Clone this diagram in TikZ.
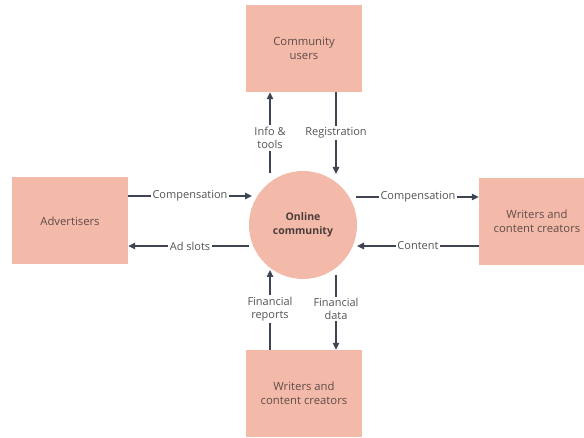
\documentclass[tikz,border=0pt]{standalone}
\usepackage{fontspec}
\setmainfont{Open Sans}
\usetikzlibrary{arrows.meta}
\definecolor{boxfill}{HTML}{F4BAA9}
\definecolor{linecol}{HTML}{3E4451}
\definecolor{boxtext}{HTML}{5E4B4B}
\definecolor{labeltext}{HTML}{545454}
\begin{document}
\begin{tikzpicture}[x=1pt,y=-1pt,
  entity/.style={fill=boxfill,draw=none,minimum width=116pt,minimum height=87pt,
    text=boxtext,align=center,font=\fontsize{11.3}{13.5}\selectfont},
  proc/.style={circle,fill=boxfill,draw=none,minimum size=108pt,
    text=boxtext!80!black,align=center,font=\bfseries\fontsize{10.5}{14}\selectfont},
  flow/.style={draw=linecol,line width=1.4pt,-{Triangle[length=7pt,width=6.5pt]}},
  flowlabel/.style={fill=white,inner sep=1.5pt,text=labeltext,align=center,
    font=\fontsize{11}{13.5}\selectfont}]
\useasboundingbox (0,0) rectangle (584,438);
\clip (0,0) rectangle (584,438);
\fill[white] (0,0) rectangle (584,438);

\node[entity] (users) at (304,48.5) {Community\\users};
\node[entity] (adv) at (70,221) {Advertisers};
\node[entity] (wr) at (537,221.5) {Writers and\\content creators};
\node[entity] (wb) at (304,393.5) {Writers and\\content creators};
\node[proc] (oc) at (303,225) {Online\\community};

% vertical flows
\draw[flow] (270,173) -- (users.south -| 270,0);
\draw[flow] (users.south -| 336,0) -- (336,174);
\draw[flow] (wb.north -| 270,0) -- (270,270);
\draw[flow] (336,275) -- (wb.north -| 336,0);

% horizontal flows
\draw[flow] (adv.east |- 0,196) -- (252,196);
\draw[flow] (249,246) -- (adv.east |- 0,246);
\draw[flow] (356,197) -- (wr.west |- 0,197);
\draw[flow] (wr.west |- 0,246) -- (357,246);

% flow labels
\node[flowlabel] (l1) at (270,138) {Info \&\\tools};
\node[flowlabel] (l2) at (336,133) {Registration};
\node[flowlabel] (l3) at (190,196) {Compensation};
\node[flowlabel] (l4) at (190,246) {Ad slots};
\node[flowlabel] (l5) at (418,197) {Compensation};
\node[flowlabel] (l6) at (418,246) {Content};
\node[flowlabel] (l7) at (270,309) {Financial\\reports};
\node[flowlabel] (l8) at (336,309) {Financial\\data};
\end{tikzpicture}
\end{document}
